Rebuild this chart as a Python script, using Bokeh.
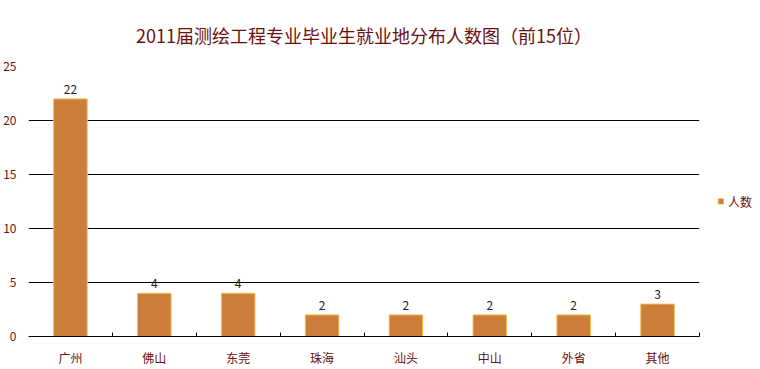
from bokeh.plotting import figure
from bokeh.models import ColumnDataSource, Range1d, FixedTicker, Legend, LegendItem, LabelSet
from bokeh.core.properties import value
from bokeh.embed import file_html
from bokeh.resources import INLINE

title = "2011届测绘工程专业毕业生就业地分布人数图（前15位）"
categories = ["广州", "佛山", "东莞", "珠海", "汕头", "中山", "外省", "其他"]
counts = [22, 4, 4, 2, 2, 2, 2, 3]
series_name = "人数"
y_ticks = [0, 5, 10, 15, 20, 25]

n = len(categories)
xs = [i + 0.5 for i in range(n)]
src = ColumnDataSource(dict(x=xs, y=counts, lab=[str(c) for c in counts]))

FONT = "Noto Sans CJK SC"
RED = "#6B0F0F"

p = figure(frame_width=671, frame_height=270, output_backend="svg", toolbar_location=None,
           x_range=Range1d(0, n), y_range=Range1d(0, 25),
           min_border_left=22, min_border_right=51, min_border_top=0, min_border_bottom=25)
p.title.text = title
p.title.align = "center"
p.title.text_font = FONT
p.title.text_font_size = "18px"
p.title.text_font_style = "normal"
p.title.text_color = RED
p.title.offset = 0
p.title.standoff = 38
p.outline_line_color = None
p.background_fill_color = "white"

r = p.vbar(x="x", top="y", width=0.4, source=src, fill_color="#CC7D3B",
           line_color="#F2C04A", line_width=1)

labels = LabelSet(x="x", y="y", text="lab", source=src, y_offset=5,
                  text_align="center", text_baseline="bottom",
                  text_font_size="12px", text_color="#222222", text_font=value(FONT))
p.add_layout(labels)

p.xaxis.ticker = FixedTicker(ticks=xs, minor_ticks=[i + 1 for i in range(n)])
p.xaxis.major_label_overrides = {x: c for x, c in zip(xs, categories)}
p.xaxis.major_tick_line_color = None
p.xaxis.minor_tick_in = 4
p.xaxis.minor_tick_out = 0
p.xaxis.minor_tick_line_color = "black"
p.xaxis.axis_line_color = "black"
p.xaxis.major_label_text_font = FONT
p.xaxis.major_label_text_font_size = "12px"
p.xaxis.major_label_text_color = RED
p.xaxis.major_label_standoff = 6
p.xgrid.grid_line_color = None

p.yaxis.ticker = FixedTicker(ticks=y_ticks)
p.yaxis.axis_line_color = None
p.yaxis.major_tick_line_color = None
p.yaxis.minor_tick_line_color = None
p.yaxis.major_label_text_font = FONT
p.yaxis.major_label_text_font_size = "12px"
p.yaxis.major_label_text_color = RED
p.yaxis.major_label_standoff = 6
p.ygrid.grid_line_color = "black"
p.ygrid.grid_line_alpha = 1

legend = Legend(items=[LegendItem(label=series_name, renderers=[r])],
                border_line_color=None, background_fill_alpha=0,
                label_text_font=FONT, label_text_font_size="12px", label_text_color=RED,
                glyph_width=7, glyph_height=7, label_standoff=4, padding=0, margin=18,
                location="center_left")
p.add_layout(legend, "right")

open("out.html", "w").write(file_html(p, INLINE))
